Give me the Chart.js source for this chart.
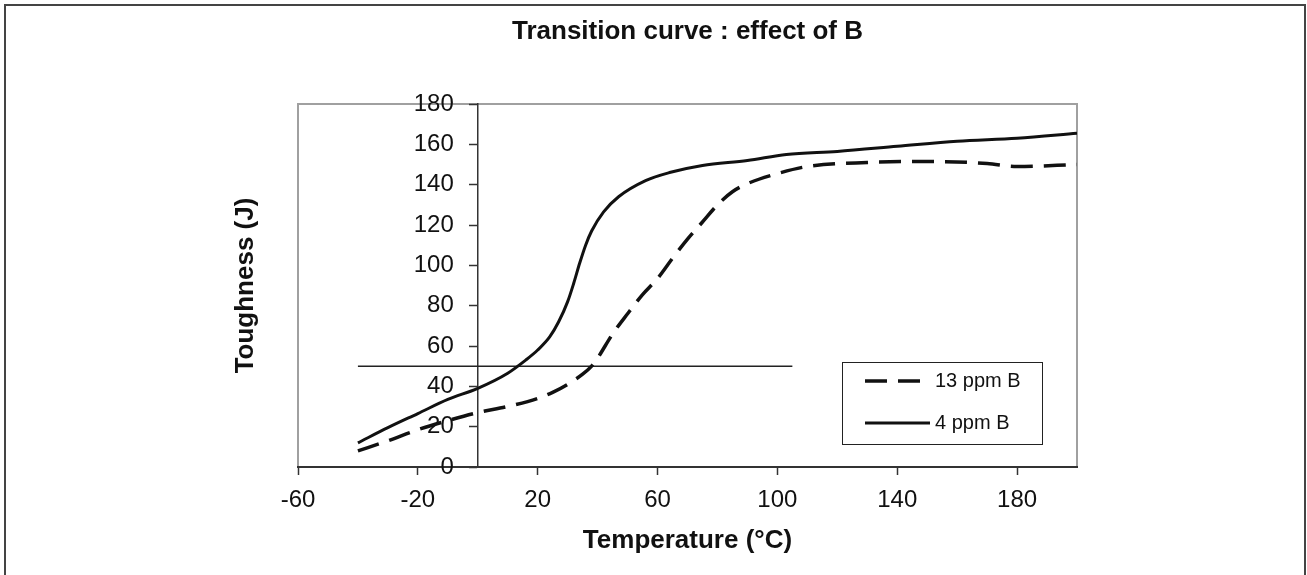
<!DOCTYPE html>
<html>
<head>
<meta charset="utf-8">
<script src="https://cdn.jsdelivr.net/npm/chart.js@4.4.1/dist/chart.umd.min.js"></script>
<style>
  body { margin: 0; background: #fff; }
</style>
</head>
<body>
<canvas id="chart" width="1307" height="575"></canvas>
<script>
// 13 ppm B (dashed)
const temps13 = [-40, -30, -20, -10, 0, 10, 20, 25, 30, 35, 38, 40, 45, 50, 55, 60, 65, 70, 75, 80, 85, 90, 100, 110, 130, 150, 170, 180, 200];
const tough13 = [8, 13, 18.5, 23, 27, 30, 34, 37, 41, 46, 50, 54, 66, 76, 85.5, 93.5, 103.5, 113, 121.5, 130, 136.5, 140.5, 145.5, 149, 151, 151.5, 150.5, 149, 150];
// 4 ppm B (solid)
const temps4 = [-40, -30, -20, -10, 0, 10, 16, 20, 24, 27, 30, 32, 34, 36, 38, 42, 47, 56, 64, 75, 90, 103, 120, 140, 160, 180, 200];
const tough4 = [12, 19.5, 26.5, 33.5, 39, 46.5, 53, 58, 64.5, 72, 82, 91, 101, 110, 117, 126.5, 134, 142, 146, 149.5, 152, 155, 156.5, 159, 161.5, 163, 165.5];
// 50 J reference line
const refTemps = [-40, 105];
const refTough = [50, 50];

const xTicks = [-60, -20, 20, 60, 100, 140, 180];
const seriesLabels = ['13 ppm B', '4 ppm B'];

Chart.defaults.font.family = '"Liberation Sans", Arial, sans-serif';
Chart.defaults.color = '#111';

function points(xs, ys) {
    return xs.map((x, i) => ({ x: x, y: ys[i] }));
}

// outer frame + grey plot border
const frame = {
    id: 'frame',
    beforeDraw(chart) {
        const ctx = chart.ctx, a = chart.chartArea;
        ctx.save();
        ctx.fillStyle = '#fff';
        ctx.fillRect(0, 0, chart.width, chart.height);
        ctx.strokeStyle = '#444';
        ctx.lineWidth = 2;
        ctx.strokeRect(5, 5, chart.width - 7, chart.height + 20);
        ctx.strokeStyle = '#a0a0a0';
        ctx.strokeRect(a.left, a.top, a.right - a.left, a.bottom - a.top);
        ctx.restore();
    }
};

// legend box inside the plot, bottom right
const boxLegend = {
    id: 'boxLegend',
    afterDatasetsDraw(chart) {
        const ctx = chart.ctx, a = chart.chartArea;
        const w = 200, h = 82;
        const left = a.right - 35 - w, top = a.bottom - 23 - h;
        ctx.save();
        ctx.fillStyle = '#fff';
        ctx.fillRect(left, top, w, h);
        ctx.strokeStyle = '#222';
        ctx.lineWidth = 1;
        ctx.strokeRect(left + 0.5, top + 0.5, w, h);
        ctx.font = '20px "Liberation Sans", Arial, sans-serif';
        ctx.textBaseline = 'middle';
        ctx.fillStyle = '#111';
        chart.data.datasets.slice(0, 2).forEach((ds, i) => {
            const y = top + 19 + i * 42;
            ctx.strokeStyle = ds.borderColor;
            ctx.lineWidth = ds.borderWidth;
            ctx.setLineDash(ds.borderDash || []);
            ctx.beginPath();
            ctx.moveTo(left + 23, y);
            ctx.lineTo(left + 88, y);
            ctx.stroke();
            ctx.setLineDash([]);
            ctx.fillText(ds.label, left + 93, y);
        });
        ctx.restore();
    }
};

new Chart(document.getElementById('chart'), {
    type: 'line',
    data: {
        datasets: [{
            label: seriesLabels[0],
            data: points(temps13, tough13),
            borderColor: '#111',
            borderWidth: 3.5,
            borderDash: [22, 11],
            pointRadius: 0,
            cubicInterpolationMode: 'monotone'
        }, {
            label: seriesLabels[1],
            data: points(temps4, tough4),
            borderColor: '#111',
            borderWidth: 3,
            pointRadius: 0,
            cubicInterpolationMode: 'monotone'
        }, {
            label: 'ref',
            data: points(refTemps, refTough),
            borderColor: '#222',
            borderWidth: 1.5,
            pointRadius: 0
        }]
    },
    options: {
        responsive: false,
        animation: false,
        layout: { padding: { left: 230.4, right: 230, top: 5, bottom: 13.4 } },
        plugins: {
            legend: { display: false },
            tooltip: { enabled: false },
            title: {
                display: true,
                text: 'Transition curve : effect of B',
                fullSize: false,
                color: '#111',
                font: { size: 26, weight: 'bold' },
                padding: { top: 11.4, bottom: 56.4 }
            }
        },
        scales: {
            x: {
                type: 'linear',
                min: -60,
                max: 200,
                afterBuildTicks: (scale) => { scale.ticks = xTicks.map(v => ({ value: v })); },
                grid: { drawOnChartArea: false, tickLength: 8, tickColor: '#333', tickWidth: 1.5 },
                border: { color: '#333', width: 2 },
                ticks: { font: { size: 24 }, padding: 10.6, maxRotation: 0, autoSkip: false, callback: v => String(v) },
                title: {
                    display: true,
                    text: 'Temperature (°C)',
                    font: { size: 26, weight: 'bold' },
                    padding: { top: 0.4, bottom: 5 }
                }
            },
            y: {
                type: 'linear',
                position: { x: 0 },
                min: 0,
                max: 180,
                // labels sit left of the crossing axis, so pad them with en spaces
                ticks: { stepSize: 20, font: { size: 24 }, callback: v => v + '\u2002\u2002' },
                grid: { drawOnChartArea: false, tickLength: 8, tickColor: '#333', tickWidth: 1.5 },
                border: { color: '#333', width: 1.5 }
            },
            yt: {
                type: 'linear',
                position: 'left',
                min: 0,
                max: 180,
                ticks: { display: false },
                grid: { display: false, drawTicks: false },
                border: { display: false },
                title: {
                    display: true,
                    text: 'Toughness (J)',
                    font: { size: 26, weight: 'bold' },
                    padding: { top: 0, bottom: 36.4 }
                }
            }
        }
    },
    plugins: [frame, boxLegend]
});
</script>
</body>
</html>
